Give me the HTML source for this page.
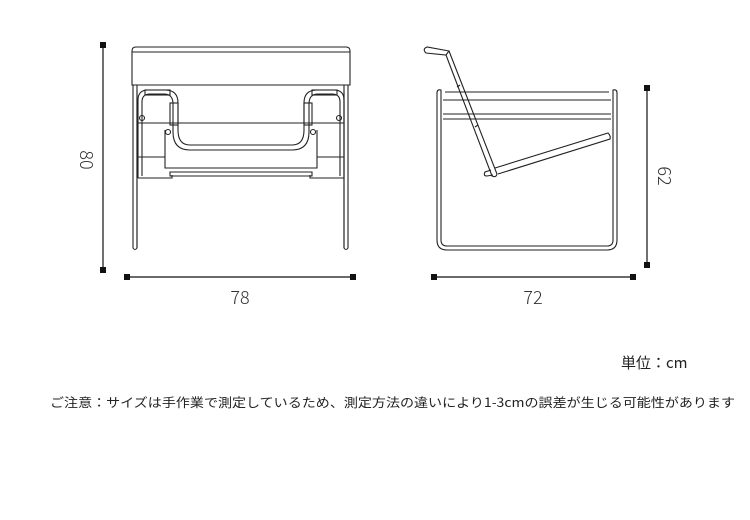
<!DOCTYPE html>
<html><head><meta charset="utf-8"><style>
html,body{margin:0;padding:0;background:#fff;}
svg{display:block;}
text{font-family:"Noto Sans CJK JP","Liberation Sans",sans-serif;fill:#222;}
</style></head><body>
<svg width="750" height="520" viewBox="0 0 750 520" xmlns="http://www.w3.org/2000/svg">
<g fill="none" stroke="#222" stroke-width="1.1">
<path d="M132,85 L132,51 Q132,47 136,47 L346,47 Q350,47 350,51 L350,85 Z"/>
<line x1="132" y1="52" x2="350" y2="52"/>
<path d="M133,85 L133,248 Q135,251 137,248 L137,85"/>
<path d="M344,85 L344,248 Q346,251 348,248 L348,85"/>
<line x1="137" y1="90" x2="137" y2="248"/>
<line x1="344" y1="90" x2="344" y2="248"/>
<path d="M138,178 L138,100 Q138,90 148,90 L165,90 Q178,90 178,103 L178,130 Q178,145 190,145 L292,145 Q304,145 304,130 L304,103 Q304,90 317,90 L334,90 Q344,90 344,100 L344,178"/>
<path d="M142,176 L142,102 Q142,94 150,94 L164,94 Q173,94 173,104 L173,132 Q173,150 190,150 L292,150 Q309,150 309,132 L309,104 Q309,94 318,94 L332,94 Q340,94 340,102 L340,176"/>
<rect x="145" y="90" width="25" height="5"/>
<rect x="312" y="90" width="25" height="5"/>
<rect x="170" y="103" width="8" height="22"/>
<rect x="304" y="103" width="8" height="22"/>
<line x1="138" y1="123" x2="344" y2="123"/>
<line x1="138" y1="157" x2="165" y2="157"/>
<line x1="317" y1="157" x2="344" y2="157"/>
<path d="M165,130 L165,168 L317,168 L317,130"/>
<path d="M170,172 L312,172 L312,176 L170,176 Z"/>
<path d="M138,178 L172,178 L172,175"/>
<path d="M310,175 L310,178 L344,178"/>
<circle cx="142" cy="118" r="2.5"/>
<circle cx="168" cy="132" r="2.5"/>
<circle cx="313" cy="132" r="2.5"/>
<circle cx="339" cy="118" r="2.5"/>
<path d="M437,93 Q437,89 441,90 L441,240 Q441,246 447,246 L607,246 Q613,246 613,240 L613,90 Q617,89 617,93 L617,240 Q617,250 607,250 L447,250 Q437,250 437,240 Z"/>
<line x1="445" y1="92" x2="609" y2="92"/>
<line x1="443" y1="100" x2="611" y2="100"/>
<line x1="443" y1="114" x2="611" y2="114"/>
<line x1="443" y1="119" x2="611" y2="119"/>
<path d="M449,51 L427,47 Q422,49 426,53 L446,55 Z"/>
<path d="M449,51 L497,174 Q496,178 492,176 L446,55"/>
<line x1="460" y1="85" x2="457" y2="87"/>
<line x1="478" y1="125" x2="475" y2="127"/>
<path d="M495,168 L608,133 Q611,136 610,139 L498,174"/>
<path d="M491,170 L485,172 Q483,176 487,176 L493,175"/>
</g>
<g stroke="#111" stroke-width="1.2">
<line x1="103" y1="45" x2="103" y2="270"/>
<line x1="127" y1="277" x2="353" y2="277"/>
<line x1="647" y1="88" x2="647" y2="265"/>
<line x1="434" y1="277" x2="633" y2="277"/>
</g>
<g fill="#111">
<rect x="100" y="42" width="6" height="6"/><rect x="100" y="267" width="6" height="6"/>
<rect x="124" y="274" width="6" height="6"/><rect x="350" y="274" width="6" height="6"/>
<rect x="644" y="85" width="6" height="6"/><rect x="644" y="262" width="6" height="6"/>
<rect x="431" y="274" width="6" height="6"/><rect x="630" y="274" width="6" height="6"/>
</g>
<text x="240" y="304" font-size="18" font-weight="300" text-anchor="middle" style="fill:#333">78</text>
<text x="533" y="304" font-size="18" font-weight="300" text-anchor="middle" style="fill:#333">72</text>
<text transform="translate(80,160) rotate(90)" font-size="18" font-weight="300" text-anchor="middle" style="fill:#333">80</text>
<text transform="translate(658,176) rotate(90)" font-size="18" font-weight="300" text-anchor="middle" style="fill:#333">62</text>
<text x="621" y="368" font-size="15">単位：cm</text>
<text x="50" y="407" font-size="12.5" textLength="685" lengthAdjust="spacingAndGlyphs">ご注意：サイズは手作業で測定しているため、測定方法の違いにより1-3cmの誤差が生じる可能性があります</text>
</svg>
</body></html>
